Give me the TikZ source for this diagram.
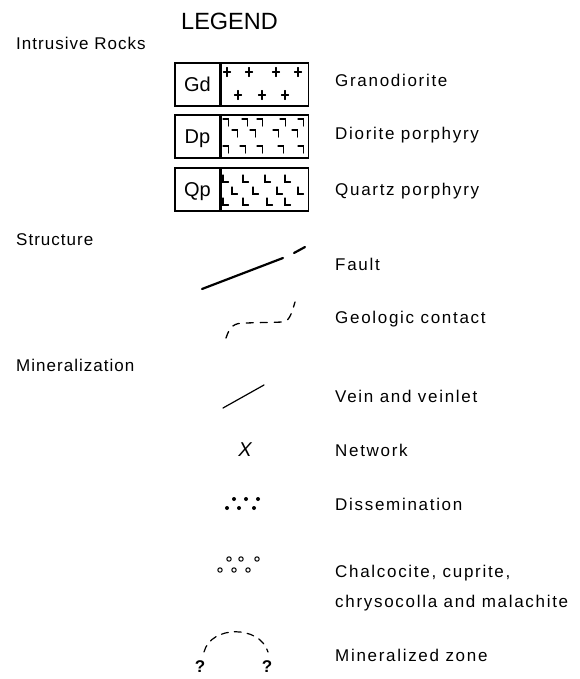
\documentclass[tikz,border=0pt]{standalone}
\usepackage{fontspec}
\setmainfont{Liberation Sans}
\newfontfamily\headFont[LetterSpace=6]{Liberation Sans}
\newfontfamily\keyFont[LetterSpace=10]{Liberation Sans}
\usepackage{tikz}
\usetikzlibrary{positioning}
\tikzset{heading/.style={anchor=base west, inner sep=0pt, font=\headFont\fontsize{17}{20}\selectfont},
  keyText/.style={anchor=base west, inner sep=0pt, align=left, font=\keyFont\fontsize{17}{30}\selectfont},
  rockCode/.style={draw, line width=1.6pt, minimum width=45pt, minimum height=43pt, inner sep=0pt, text height=14.3pt, text depth=0pt, font=\fontsize{20}{20}\selectfont},
  rockPat/.style={draw, line width=1.6pt, minimum width=87pt, minimum height=43pt, inner sep=0pt},
  sym/.style={line width=1.1pt},
  query/.style={inner sep=0pt, font=\bfseries\fontsize{17}{17}\selectfont}}

\begin{document}
\begin{tikzpicture}[x=1pt, y=-1pt, line cap=round]
\useasboundingbox[fill=white] (0,0) rectangle (580,679);
\node[anchor=base west, inner sep=0pt, font=\fontsize{23.5}{24}\selectfont] (legend) at (181,30) {LEGEND};
\node[heading] (hIntrusive) at (16,50) {Intrusive Rocks};
\node[heading] (hStructure) at (16,245) {Structure};
\node[heading] (hMineral) at (16,371) {Mineralization};
\node[rockCode] (gd) at (197.5,84.5) {Gd};
\node[rockPat, right=0pt of gd] (gdPat) {};
\node[rockCode] (dp) at (197.5,136.5) {Dp};
\node[rockPat, right=0pt of dp] (dpPat) {};
\node[rockCode] (qp) at (197.5,189.5) {Qp};
\node[rockPat, right=0pt of qp] (qpPat) {};
\foreach \x/\y in {227/72, 249/72, 276/72, 298/72, 238/95, 262/95, 285/95}
  \draw[sym] (\x-3.5,\y) -- (\x+3.5,\y) (\x,\y-4.5) -- (\x,\y+4.5);
\foreach \x/\y in {223/119, 242/119, 257/119, 280/119, 298/119, 232/130, 250/130, 273/130, 292/130, 223/146, 240/146, 257/146, 278/146, 298/146}
  \draw[sym] (\x,\y) -- (\x+5.5,\y) -- (\x+5.5,\y+7);
\foreach \x/\y in {223/175, 243/175, 265/175, 285/175, 232/187, 253/187, 277/187, 298/187, 223/198, 243/198, 267/198, 285/198}
  \draw[sym] (\x,\y) -- (\x,\y+7) -- (\x+5.5,\y+7);
\node[keyText] (lGd) at (335,87) {Granodiorite};
\node[keyText] (lDp) at (335,140) {Diorite porphyry};
\node[keyText] (lQp) at (335,195) {Quartz porphyry};
\draw[line width=2.2pt] (202,289) -- (283,258) (294,253) -- (305,247);
\node[keyText] (lFault) at (335,270) {Fault};
\draw[line width=1.3pt, dash pattern=on 7pt off 7pt] (226,338) .. controls (230,326) and (234,323) .. (245,323) -- (284,322) .. controls (290,320) and (292,312) .. (295,302);
\node[keyText] (lContact) at (335,323) {Geologic contact};
\draw[line width=1.2pt] (223,408) -- (264,385);
\node[keyText] (lVein) at (335,402) {Vein and veinlet};
\node[font=\itshape\fontsize{20}{20}\selectfont, inner sep=0pt] (network) at (245,450) {X};
\node[keyText] (lNetwork) at (335,456) {Network};
\foreach \x/\y in {234/499, 246/499, 258/499, 227/508, 239/508, 254/508}
  \fill (\x,\y) circle (2pt);
\node[keyText] (lDissem) at (335,510) {Dissemination};
\foreach \x/\y in {229/559, 241/559, 257/559, 220/570, 234/570, 248/570}
  \draw[line width=1pt] (\x,\y) circle (2.2pt);
\node[keyText] (lChalco) at (335,607) {Chalcocite, cuprite,\\chrysocolla and malachite};
\draw[line width=1.2pt, dash pattern=on 7pt off 6pt] (204,652) .. controls (211,625) and (260,625) .. (268,652);
\node[query] (qLeft) at (200,667) {?};
\node[query] (qRight) at (267,667) {?};
\node[keyText] (lZone) at (335,661) {Mineralized zone};
\end{tikzpicture}
\end{document}
